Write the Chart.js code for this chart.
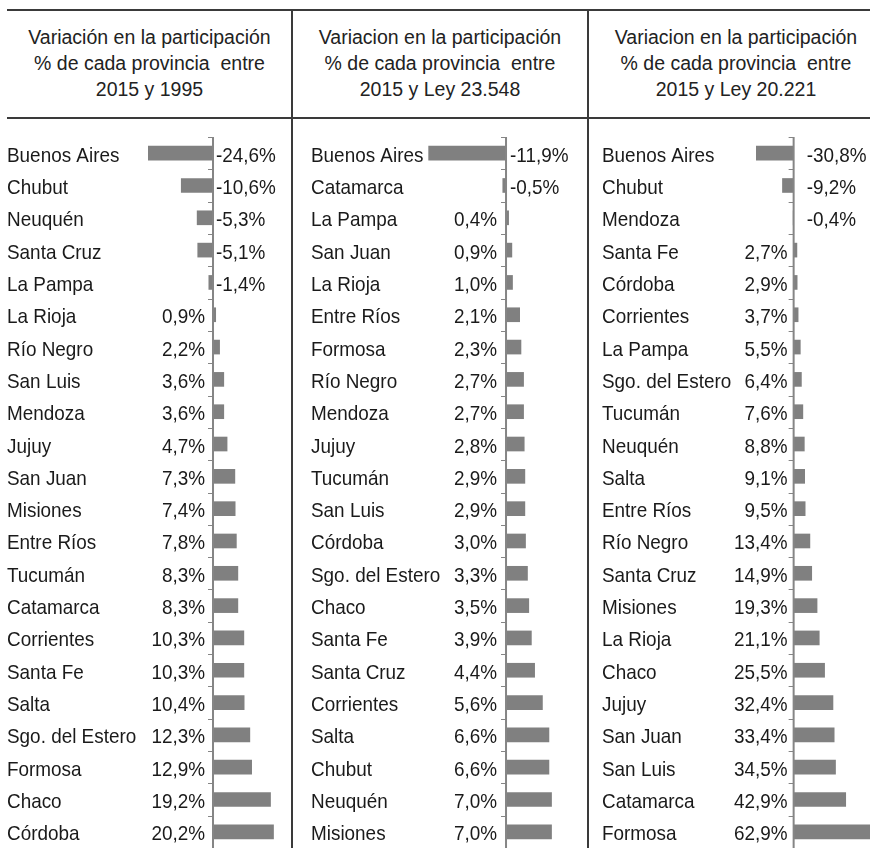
<!DOCTYPE html>
<html>
<head>
<meta charset="utf-8">
<script src="https://cdn.jsdelivr.net/npm/chart.js@4.4.1/dist/chart.umd.min.js"></script>
<style>
  html, body { margin: 0; padding: 0; background: #fff; }
  body { width: 870px; height: 848px; overflow: hidden; position: relative;
         font-family: "Liberation Sans", Arial, sans-serif; color: #222; }
  .linea { position: absolute; background: #3a3a3a; }
  .titulo { position: absolute; top: 24px; text-align: center; white-space: pre;
            font-size: 19.5px; line-height: 26.2px; }
  canvas { position: absolute; top: 128px; }
</style>
</head>
<body>
<div class="linea" style="left:7px; top:9px; width:863px; height:2px;"></div>
<div class="linea" style="left:7px; top:117px; width:863px; height:2px;"></div>
<div class="linea" style="left:291px; top:9px; width:2px; height:839px;"></div>
<div class="linea" style="left:587px; top:9px; width:2px; height:839px;"></div>

<div class="titulo" id="t1" style="left:7px; width:285px;"></div>
<div class="titulo" id="t2" style="left:292px; width:296px;"></div>
<div class="titulo" id="t3" style="left:588px; width:296px;"></div>

<canvas id="c1" width="292" height="720" style="left:0px;"></canvas>
<canvas id="c2" width="296" height="720" style="left:292px;"></canvas>
<canvas id="c3" width="282" height="720" style="left:588px;"></canvas>

<script>
const titulos = [
    ['Variación en la participación', '% de cada provincia  entre', '2015 y 1995'],
    ['Variacion en la participación', '% de cada provincia  entre', '2015 y Ley 23.548'],
    ['Variacion en la participación', '% de cada provincia  entre', '2015 y Ley 20.221']
];

const provincias1995 = ['Buenos Aires', 'Chubut', 'Neuquén', 'Santa Cruz', 'La Pampa', 'La Rioja',
    'Río Negro', 'San Luis', 'Mendoza', 'Jujuy', 'San Juan', 'Misiones', 'Entre Ríos', 'Tucumán',
    'Catamarca', 'Corrientes', 'Santa Fe', 'Salta', 'Sgo. del Estero', 'Formosa', 'Chaco', 'Córdoba'];
const valores1995 = [-24.6, -10.6, -5.3, -5.1, -1.4, 0.9, 2.2, 3.6, 3.6, 4.7, 7.3, 7.4, 7.8, 8.3,
    8.3, 10.3, 10.3, 10.4, 12.3, 12.9, 19.2, 20.2];

const provinciasLey23548 = ['Buenos Aires', 'Catamarca', 'La Pampa', 'San Juan', 'La Rioja', 'Entre Ríos',
    'Formosa', 'Río Negro', 'Mendoza', 'Jujuy', 'Tucumán', 'San Luis', 'Córdoba', 'Sgo. del Estero',
    'Chaco', 'Santa Fe', 'Santa Cruz', 'Corrientes', 'Salta', 'Chubut', 'Neuquén', 'Misiones'];
const valoresLey23548 = [-11.9, -0.5, 0.4, 0.9, 1.0, 2.1, 2.3, 2.7, 2.7, 2.8, 2.9, 2.9, 3.0, 3.3,
    3.5, 3.9, 4.4, 5.6, 6.6, 6.6, 7.0, 7.0];

const provinciasLey20221 = ['Buenos Aires', 'Chubut', 'Mendoza', 'Santa Fe', 'Córdoba', 'Corrientes',
    'La Pampa', 'Sgo. del Estero', 'Tucumán', 'Neuquén', 'Salta', 'Entre Ríos', 'Río Negro',
    'Santa Cruz', 'Misiones', 'La Rioja', 'Chaco', 'Jujuy', 'San Juan', 'San Luis', 'Catamarca', 'Formosa'];
const valoresLey20221 = [-30.8, -9.2, -0.4, 2.7, 2.9, 3.7, 5.5, 6.4, 7.6, 8.8, 9.1, 9.5, 13.4,
    14.9, 19.3, 21.1, 25.5, 32.4, 33.4, 34.5, 42.9, 62.9];

titulos.forEach(function (lineas, i) {
    document.getElementById('t' + (i + 1)).textContent = lineas.join('\n');
});

function formato(v) {
    return v.toFixed(1).replace('.', ',') + '%';
}

// dibuja el eje en cero, las marcas, los nombres y los porcentajes
const tablaPlugin = {
    id: 'tabla',
    afterDraw: function (chart, args, opts) {
        const ctx = chart.ctx;
        const area = chart.chartArea;
        const cero = chart.scales.x.getPixelForValue(0);
        const yScale = chart.scales.y;
        const labels = chart.data.labels;
        const valores = chart.data.datasets[0].data;
        const paso = (area.bottom - area.top) / labels.length;

        ctx.save();
        ctx.strokeStyle = '#858585';
        ctx.lineWidth = 2;
        ctx.beginPath();
        ctx.moveTo(cero, area.top);
        ctx.lineTo(cero, area.bottom);
        ctx.stroke();
        ctx.lineWidth = 1;
        for (let i = 0; i <= labels.length; i++) {
            const yb = Math.round(area.top + i * paso) + 0.5;
            ctx.beginPath();
            ctx.moveTo(cero - 5, yb);
            ctx.lineTo(cero, yb);
            ctx.stroke();
        }

        ctx.fillStyle = '#1a1a1a';
        ctx.font = '21px "Liberation Sans", Arial, sans-serif';
        ctx.textBaseline = 'alphabetic';
        const texto = function (t, x, y, align) {
            ctx.save();
            ctx.translate(x, y);
            ctx.scale(0.9, 1);
            ctx.textAlign = align;
            ctx.fillText(t, 0, 0);
            ctx.restore();
        };
        labels.forEach(function (nombre, i) {
            const y = yScale.getPixelForValue(i) + 8.5;
            texto(nombre, opts.catX, y, 'left');
            const v = valores[i];
            if (v < 0) texto(formato(v), cero + opts.negGap, y, 'left');
            else texto(formato(v), cero - opts.posGap, y, 'right');
        });
        ctx.restore();
    }
};

function crearPanel(canvasId, labels, valores, eje, pad, textos) {
    const ctx = document.getElementById(canvasId).getContext('2d');
    return new Chart(ctx, {
        type: 'bar',
        data: {
            labels: labels,
            datasets: [{
                data: valores,
                backgroundColor: '#808080',
                borderWidth: 0,
                barThickness: 14
            }]
        },
        options: {
            indexAxis: 'y',
            responsive: false,
            animation: false,
            layout: {
                padding: { left: pad.left, right: pad.right, top: 9, bottom: 0 }
            },
            scales: {
                x: { display: false, min: eje.min, max: eje.max },
                y: { display: false }
            },
            plugins: {
                legend: { display: false },
                tooltip: { enabled: false },
                tabla: textos
            }
        },
        plugins: [tablaPlugin]
    });
}

crearPanel('c1', provincias1995, valores1995,
    { min: -21.7, max: 25.7 }, { left: 148, right: 2 },
    { catX: 7, posGap: 8, negGap: 3 });
crearPanel('c2', provinciasLey23548, valoresLey23548,
    { min: -12, max: 12.3 }, { left: 136, right: 2 },
    { catX: 19, posGap: 9, negGap: 4 });
crearPanel('c3', provinciasLey20221, valoresLey20221,
    { min: -31, max: 62.9 }, { left: 168, right: 0 },
    { catX: 14, posGap: 6, negGap: 13 });
</script>
</body>
</html>
